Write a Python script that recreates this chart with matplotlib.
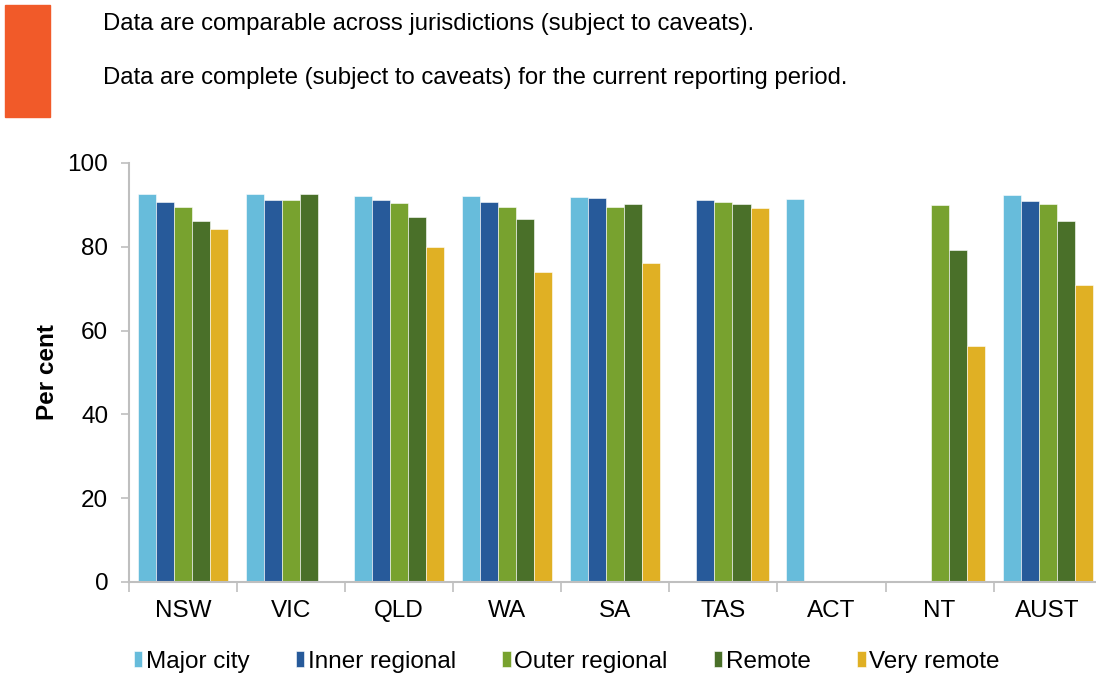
import matplotlib.pyplot as plt
import numpy as np
from matplotlib.patches import Rectangle

plt.rcParams['font.family'] = ['Liberation Sans', 'DejaVu Sans']

jurisdictions = ["NSW", "VIC", "QLD", "WA", "SA", "TAS", "ACT", "NT", "AUST"]
series_names = ["Major city", "Inner regional", "Outer regional", "Remote", "Very remote"]
colors = ["#67BCDB", "#275A9A", "#78A22F", "#4A7029", "#E0B024"]

nan = np.nan
major_city = [92.7, 92.7, 92.1, 92.2, 92.0, nan, 91.4, nan, 92.4]
inner_regional = [90.6, 91.2, 91.1, 90.6, 91.6, 91.2, nan, nan, 90.9]
outer_regional = [89.4, 91.2, 90.4, 89.4, 89.4, 90.8, nan, 89.9, 90.1]
remote = [86.1, 92.7, 87.1, 86.7, 90.2, 90.1, nan, 79.2, 86.2]
very_remote = [84.2, nan, 80.0, 74.0, 76.1, 89.3, nan, 56.3, 70.9]

series = [major_city, inner_regional, outer_regional, remote, very_remote]

fig = plt.figure(figsize=(10.96, 6.78), dpi=100)
ax = fig.add_axes([0.1177, 0.1416, 0.8875, 0.618])

x = np.arange(len(jurisdictions))
width = 0.167
for i, (vals, name, col) in enumerate(zip(series, series_names, colors)):
    ax.bar(x + (i - 2) * width, vals, width=width, color=col, label=name,
           edgecolor='white', linewidth=0.4)

ax.set_xlim(-0.5, len(jurisdictions) - 0.5)
ax.set_ylim(0, 100)
ax.set_yticks([0, 20, 40, 60, 80, 100])
ax.set_xticks(x)
ax.set_xticklabels(jurisdictions)
ax.set_xticks(np.arange(-0.5, len(jurisdictions), 1), minor=True)
ax.tick_params(axis='x', which='major', length=0, labelsize=17.5, pad=13)
ax.tick_params(axis='x', which='minor', length=7, color='#BFBFBF', width=1.2)
ax.tick_params(axis='y', length=6, color='#BFBFBF', width=1.2, labelsize=17.5, pad=9)
for s in ['top', 'right']:
    ax.spines[s].set_visible(False)
for s in ['left', 'bottom']:
    ax.spines[s].set_color('#BFBFBF')
    ax.spines[s].set_linewidth(1.5)
ax.set_ylabel("Per cent", fontsize=17.5, fontweight='bold', labelpad=6)

ax.legend(loc='center', bbox_to_anchor=(0.5 - 0.05, -0.19), ncol=5, frameon=False,
          fontsize=17.5, handlelength=0.35, handleheight=0.6, handletextpad=0.15,
          columnspacing=1.9)

# header
fig.patches.append(Rectangle((5 / 1096, 1 - 117 / 678), 45 / 1096, 112 / 678,
                             transform=fig.transFigure, color='#F15A29'))
fig.text(103 / 1096, 1 - 24 / 678, "Data are comparable across jurisdictions (subject to caveats).",
         fontsize=17.2, va='center', ha='left')
fig.text(103 / 1096, 1 - 78 / 678, "Data are complete (subject to caveats) for the current reporting period.",
         fontsize=17.2, va='center', ha='left')

fig.savefig("out.png", dpi=100)
